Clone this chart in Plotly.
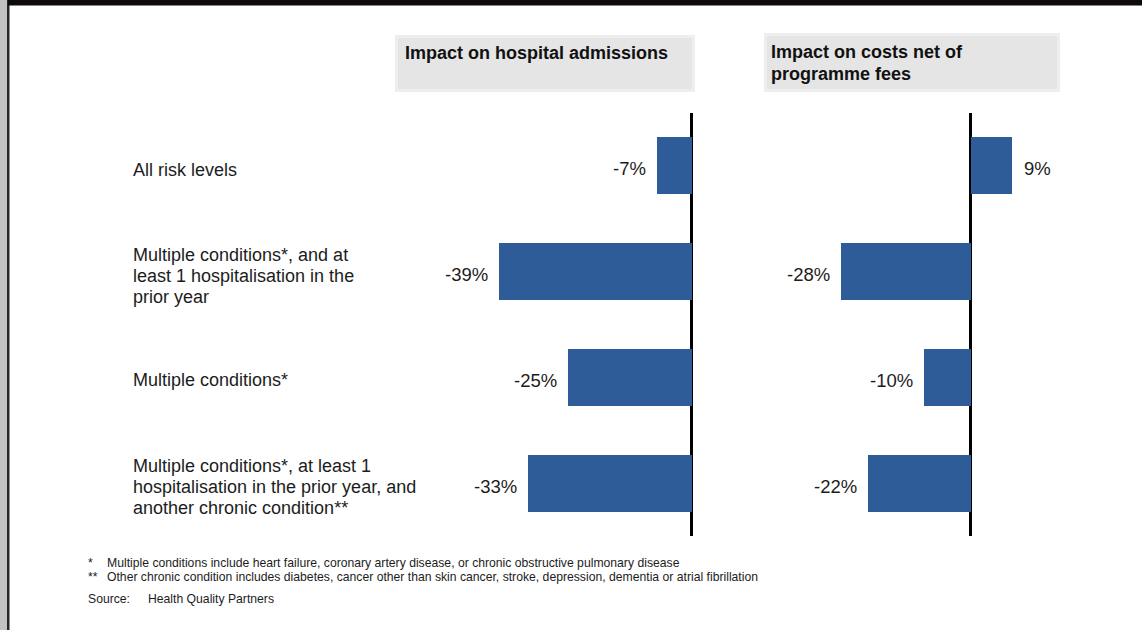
import plotly.graph_objects as go

# ---------------- data ----------------
categories = [
    "All risk levels",
    "Multiple conditions*, and at least 1 hospitalisation in the prior year",
    "Multiple conditions*",
    "Multiple conditions*, at least 1 hospitalisation in the prior year, and another chronic condition**",
]
category_lines = [
    ["All risk levels"],
    ["Multiple conditions*, and at", "least 1 hospitalisation in the", "prior year"],
    ["Multiple conditions*"],
    ["Multiple conditions*, at least 1", "hospitalisation in the prior year, and", "another chronic condition**"],
]
admissions_impact = [-7, -39, -25, -33]
costs_impact = [9, -28, -10, -22]
title_left_lines = ["Impact on hospital admissions"]
title_right_lines = ["Impact on costs net of", "programme fees"]
footnote_marks = ["*", "**"]
footnote_texts = [
    "Multiple conditions include heart failure, coronary artery disease, or chronic obstructive pulmonary disease",
    "Other chronic condition includes diabetes, cancer other than skin cancer, stroke, depression, dementia or atrial fibrillation",
]
source_label = "Source:"
source_text = "Health Quality Partners"

# ---------------- geometry helpers ----------------
W, H = 1142, 630
def fx(px):
    return px / W
def fy(py):
    return 1 - py / H

BAR_COLOR = "#2E5C99"
TEXT = "#1c1c1c"
FONT = "Liberation Sans, Arial, sans-serif"

fig = go.Figure()
fig.add_trace(go.Bar(
    x=admissions_impact, y=categories, orientation="h",
    marker=dict(color=BAR_COLOR, line=dict(width=0)), width=0.54,
    xaxis="x", yaxis="y", hoverinfo="skip",
))
fig.add_trace(go.Bar(
    x=costs_impact, y=categories, orientation="h",
    marker=dict(color=BAR_COLOR, line=dict(width=0)), width=0.54,
    xaxis="x2", yaxis="y2", hoverinfo="skip",
))

# axis scales (pixels per percent point)
L0, LS = 691.5, 4.94
R0, RS = 970.5, 4.64
lx0, lx1 = 400, 700
rx0, rx1 = 760, 1100
ydom = [fy(536), fy(113)]

common_x = dict(showgrid=False, showticklabels=False, showline=False, ticks="",
                zeroline=True, zerolinecolor="#000000", zerolinewidth=2.5, fixedrange=True)
common_y = dict(showgrid=False, showticklabels=False, showline=False, ticks="",
                zeroline=False, type="category", categoryorder="array",
                categoryarray=categories, range=[3.5, -0.5], domain=ydom, fixedrange=True)

fig.update_layout(
    width=W, height=H, margin=dict(l=0, r=0, t=0, b=0),
    paper_bgcolor="white", plot_bgcolor="rgba(0,0,0,0)",
    showlegend=False, bargap=0,
    font=dict(family=FONT, color=TEXT),
    xaxis=dict(domain=[fx(lx0), fx(lx1)], range=[(lx0 - L0) / LS, (lx1 - L0) / LS], anchor="y", **common_x),
    yaxis=dict(anchor="x", **common_y),
    xaxis2=dict(domain=[fx(rx0), fx(rx1)], range=[(rx0 - R0) / RS, (rx1 - R0) / RS], anchor="y2", **common_x),
    yaxis2=dict(anchor="x2", **common_y),
)

shapes = []
annotations = []

# page frame (scan edges)
shapes.append(dict(type="rect", xref="paper", yref="paper", x0=0, x1=fx(7), y0=0, y1=1,
                   fillcolor="#c2c2c2", line=dict(width=0), layer="above"))
shapes.append(dict(type="rect", xref="paper", yref="paper", x0=fx(7), x1=fx(9.5), y0=0, y1=1,
                   fillcolor="#262626", line=dict(width=0), layer="above"))
shapes.append(dict(type="rect", xref="paper", yref="paper", x0=fx(8), x1=1, y0=fy(5.5), y1=1,
                   fillcolor="#0e0a0b", line=dict(width=0), layer="above"))

# title boxes
shapes.append(dict(type="rect", xref="paper", yref="paper", x0=fx(395), x1=fx(695), y0=fy(92), y1=fy(35),
                   fillcolor="#eeeeee", line=dict(width=0), layer="below"))
shapes.append(dict(type="rect", xref="paper", yref="paper", x0=fx(398), x1=fx(692), y0=fy(89), y1=fy(38),
                   fillcolor="#e5e5e5", line=dict(width=0), layer="below"))
shapes.append(dict(type="rect", xref="paper", yref="paper", x0=fx(764), x1=fx(1060), y0=fy(92), y1=fy(33),
                   fillcolor="#eeeeee", line=dict(width=0), layer="below"))
shapes.append(dict(type="rect", xref="paper", yref="paper", x0=fx(767), x1=fx(1057), y0=fy(89), y1=fy(36),
                   fillcolor="#e5e5e5", line=dict(width=0), layer="below"))

TITLE_FONT = dict(family=FONT, size=18, color="#111111")
for i, line in enumerate(title_left_lines):
    annotations.append(dict(xref="paper", yref="paper", x=fx(403), y=fy(53 + 22 * i),
                            xanchor="left", yanchor="middle", showarrow=False,
                            text="<b>%s</b>" % line, font=TITLE_FONT))
for i, line in enumerate(title_right_lines):
    annotations.append(dict(xref="paper", yref="paper", x=fx(769), y=fy(52 + 22 * i),
                            xanchor="left", yanchor="middle", showarrow=False,
                            text="<b>%s</b>" % line, font=TITLE_FONT))

# category labels (left, each line placed separately)
centers = [166, 272, 376, 483]
LABEL_FONT = dict(family=FONT, size=18, color=TEXT)
for c, lines in zip(centers, category_lines):
    n = len(lines)
    for j, line in enumerate(lines):
        py = c + 4 + (j - (n - 1) / 2) * 21
        annotations.append(dict(xref="paper", yref="paper", x=fx(131), y=fy(py),
                                xanchor="left", yanchor="middle", showarrow=False,
                                text=line, font=LABEL_FONT))

# value labels
VAL_FONT = dict(family=FONT, size=18.5, color=TEXT)
for vals, xr, yr in [(admissions_impact, "x", "y"), (costs_impact, "x2", "y2")]:
    for cat, v in zip(categories, vals):
        neg = v < 0
        annotations.append(dict(xref=xr, yref=yr, x=v, y=cat,
                                xanchor="right" if neg else "left", yanchor="middle",
                                xshift=-9 if neg else 10, yshift=-3, showarrow=False,
                                text="%d%%" % v, font=VAL_FONT))

# footnotes
FOOT_FONT = dict(family=FONT, size=12.2, color=TEXT)
for i, (m, t) in enumerate(zip(footnote_marks, footnote_texts)):
    py = 563 + 14 * i
    annotations.append(dict(xref="paper", yref="paper", x=fx(86), y=fy(py), xanchor="left",
                            yanchor="middle", showarrow=False, text=m, font=FOOT_FONT))
    annotations.append(dict(xref="paper", yref="paper", x=fx(105), y=fy(py), xanchor="left",
                            yanchor="middle", showarrow=False, text=t, font=FOOT_FONT))
annotations.append(dict(xref="paper", yref="paper", x=fx(86), y=fy(599), xanchor="left",
                        yanchor="middle", showarrow=False, text=source_label, font=FOOT_FONT))
annotations.append(dict(xref="paper", yref="paper", x=fx(146), y=fy(599), xanchor="left",
                        yanchor="middle", showarrow=False, text=source_text, font=FOOT_FONT))

fig.update_layout(shapes=shapes, annotations=annotations)
fig.write_html("out.html")
